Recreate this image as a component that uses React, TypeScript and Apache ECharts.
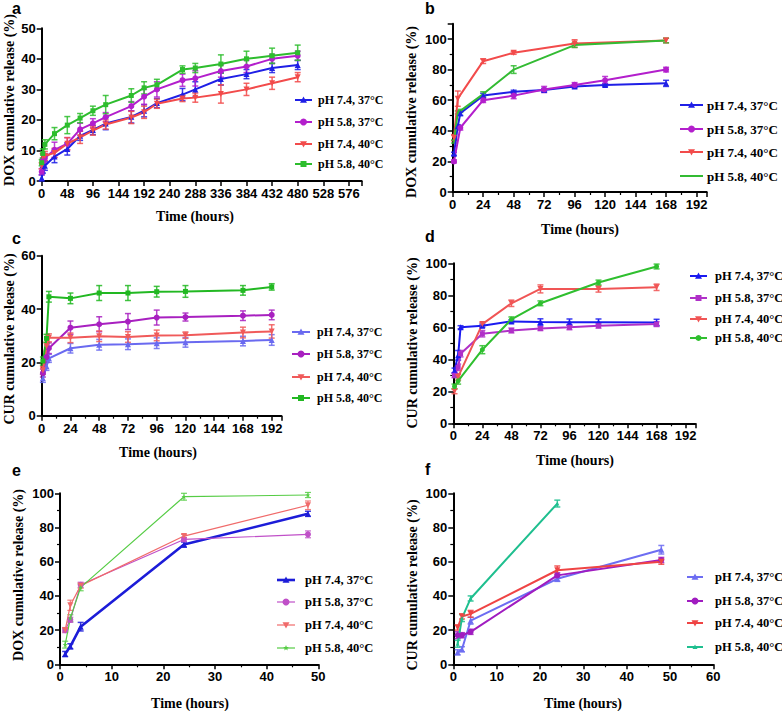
import React, { useEffect, useRef } from "react";
import * as echarts from "echarts";

const LABELS = ["pH 7.4, 37°C", "pH 5.8, 37°C", "pH 7.4, 40°C", "pH 5.8, 40°C"];

// ---- Panel a (DOX, long) ----
const aTime = [0, 2, 6, 24, 48, 72, 96, 120, 168, 192, 216, 264, 288, 336, 384, 432, 480];
const aBlue = [1, 3.5, 5, 8, 10.5, 14.8, 16.7, 18.8, 21, 23, 25.5, 28.3, 30, 33.4, 35, 37, 38];
const aBlueErr = [1, 1, 1.5, 2, 2, 1.5, 1.5, 2, 2, 2, 1.5, 2, 2.5, 2, 1.5, 1.5, 1.5];
const aMag = [3, 6.5, 7.5, 10.2, 12.2, 16.9, 18.9, 20.9, 24.5, 27.6, 30, 33, 33.6, 36, 37.5, 40, 41];
const aMagErr = [1, 1, 1.5, 2.5, 2, 2, 1.5, 1.5, 1.5, 2.5, 2.5, 2, 2.5, 2, 2, 1.5, 1.5];
const aRed = [5, 8, 8.2, 9.2, 12.2, 14.3, 16.5, 18.5, 20.8, 22.5, 25.3, 27, 27.3, 28.5, 30, 32, 34];
const aRedErr = [1, 1, 1.5, 1.5, 2, 2, 1.5, 1.5, 2, 2, 1.5, 1, 1.5, 3, 2, 2, 1.5];
const aGreen = [6, 9, 12, 15.5, 18.3, 20.6, 23, 25, 28, 30.5, 31.5, 36.5, 37, 38.3, 40, 41, 42];
const aGreenErr = [1, 1.5, 1.5, 2, 2.8, 1.5, 1.5, 3, 2.2, 2, 1.8, 1.2, 1.5, 3, 2.5, 2.5, 2.5];

// ---- Panel b (DOX) ----
const bTime = [1, 4, 6, 24, 48, 72, 96, 120, 168];
const bBlue = [25, 43, 51.5, 63, 65.5, 66.7, 69, 70, 71];
const bBlueErr = [1, 1, 1.5, 1.5, 1, 1, 1, 1, 2];
const bMag = [20, null, 42, 60, 63, 67, 70, 73, 80];
const bMagErr = [1, 0, 1.5, 1.5, 2, 2, 1.5, 2.5, 1.5];
const bRed = [35.5, 61, null, 85.5, 91, null, 97, null, 99];
const bRedErr = [2, 5, 0, 1.5, 1, 0, 2.5, 0, 1.5];
const bGreen = [33, 52, 53, 64, 80, null, 96, null, 99];
const bGreenErr = [1, 1, 1, 1.5, 2.5, 0, 1.5, 0, 1.5];

// ---- Panel c (CUR) ----
const cTime = [1, 4, 6, 24, 48, 72, 96, 120, 168, 192];
const cBlue = [14, 18.5, 21.5, 25.3, 26.6, 26.8, 27.2, 27.5, 28, 28.4];
const cBlueErr = [1.5, 1.5, 1.5, 1.8, 2, 2, 2, 1.8, 1.8, 2];
const cMag = [16, 22, 25.3, 33, 34.3, 35.3, 36.8, 37, 37.5, 37.8];
const cMagErr = [1.5, 2, 2, 2.5, 2.8, 3, 2.8, 1.5, 1.8, 1.8];
const cRed = [17, 26, 29.2, 29.2, 29.8, 29.5, 30.1, 30.2, 31.2, 31.6];
const cRedErr = [1.5, 1.5, 1.5, 1.8, 2, 2, 2, 1.2, 2, 2.5];
const cGreen = [20.5, 29, 44.6, 44, 46, 46, 46.5, 46.6, 47, 48.3];
const cGreenErr = [1.5, 1.5, 2, 2, 2.8, 2.8, 2, 2.2, 1.8, 1.2];

// ---- Panel d (CUR) ----
const dTime = [1, 4, 6, 24, 48, 72, 96, 120, 168];
const dBlue = [33, 42.5, 60, 61, 63.7, 63.3, 63.2, 63.2, 63];
const dBlueErr = [1.5, 3, 1, 1, 1, 2, 2, 2, 2];
const dMag = [30, 35, 43.5, 56, 58, 59.2, 60, 61, 62];
const dMagErr = [1.5, 2, 2, 2, 1.5, 1.2, 1.5, 1.5, 1.5];
const dRed = [20, 29, null, 62, 75, 84, null, 84, 85];
const dRedErr = [1.5, 2, 0, 1, 2, 2.5, 0, 2, 2];
const dGreen = [23, 26.5, null, 46, 65, 75, null, 88, 98];
const dGreenErr = [1.5, 2, 0, 2.5, 1.5, 1.5, 0, 1.5, 1.5];

// ---- Panel e (DOX, 48 h) ----
const eTime = [1, 2, 4, 24, 48];
const eBlue = [6, 10.5, 22, 70, 88];
const eBlueErr = [1.5, 1.5, 2.5, 1.5, 1.5];
const eMag = [20, 26, 46.5, 73, 76];
const eMagErr = [1.5, 1.5, 1.5, 1.2, 2];
const eRed = [20, 34.5, 46, 75, 93];
const eRedErr = [1, 3, 1.5, 1, 2.5];
const eGreen = [11.5, 27, 45, 98, 99];
const eGreenErr = [2, 2, 2, 2, 1.5];

// ---- Panel f (CUR, 48 h) ----
const fTime = [1, 2, 4, 24, 48];
const fBlue = [7, 8.8, 25.5, 50, 67];
const fBlueErr = [1.5, 1.5, 2, 1.5, 2.5];
const fMag = [17, 17, 19, 52, 61];
const fMagErr = [2, 1.5, 1.5, 1.5, 1.5];
const fRed = [21.5, 28, 29.5, 55, 60];
const fRedErr = [1.5, 1.5, 2, 2.5, 1.5];
const fGreen = [12, 27, 38.5, 94, null];
const fGreenErr = [2, 2, 1.5, 2, 0];

const TRI_DOWN = "path://M0,0L10,0L5,9Z";
const STAR = "path://M5,0L6.2,3.6L10,3.6L7,5.9L8.1,9.5L5,7.3L1.9,9.5L3,5.9L0,3.6L3.8,3.6Z";

type S = { vals: (number | null)[]; errs: number[]; color: string; sym: string; size: number; lw: number };

const panels = [
  {
    letter: "a", lx: 12, ly: 8,
    grid: { left: 41.7, top: 28.3, width: 320, height: 152.7 },
    xMax: 600, xInt: 48, xMinor: 0, xLabelMax: 576,
    yMax: 50, yInt: 10, yMinor: 0, yLabelMax: 50,
    yTitle: "DOX cumulative release (%)", yt: [9, 100], xt: [195, 216],
    time: aTime,
    series: [
      { vals: aBlue, errs: aBlueErr, color: "#1f1fe6", sym: "triangle", size: 6, lw: 2 },
      { vals: aMag, errs: aMagErr, color: "#b31fcc", sym: "circle", size: 6, lw: 2 },
      { vals: aRed, errs: aRedErr, color: "#f24b4b", sym: TRI_DOWN, size: 6, lw: 2 },
      { vals: aGreen, errs: aGreenErr, color: "#2dbd2d", sym: "rect", size: 5, lw: 2 },
    ] as S[],
    leg: { x1: 295, x2: 312, tx: 318, rows: [100, 122, 144, 164], fs: 12 },
  },
  {
    letter: "b", lx: 425, ly: 8,
    grid: { left: 452.7, top: 23.7, width: 254, height: 168.3 },
    xMax: 200, xInt: 24, xMinor: 2, xLabelMax: 192,
    yMax: 110, yInt: 20, yMinor: 2, yLabelMax: 100,
    yTitle: "DOX cumulative release (%)", yt: [411, 112], xt: [580, 229],
    time: bTime,
    series: [
      { vals: bBlue, errs: bBlueErr, color: "#1f1fe6", sym: "triangle", size: 6, lw: 2 },
      { vals: bMag, errs: bMagErr, color: "#b31fcc", sym: "circle", size: 6, lw: 2 },
      { vals: bRed, errs: bRedErr, color: "#f24b4b", sym: TRI_DOWN, size: 6, lw: 2 },
      { vals: bGreen, errs: bGreenErr, color: "#33bb33", sym: "none", size: 0, lw: 2 },
    ] as S[],
    leg: { x1: 680, x2: 703, tx: 707, rows: [105, 129, 152, 176], fs: 13 },
  },
  {
    letter: "c", lx: 12, ly: 238,
    grid: { left: 41.7, top: 255.7, width: 239.6, height: 160 },
    xMax: 200, xInt: 24, xMinor: 2, xLabelMax: 192,
    yMax: 60, yInt: 20, yMinor: 0, yLabelMax: 60,
    yTitle: "CUR cumulative release (%)", yt: [9, 339], xt: [158, 452],
    time: cTime,
    series: [
      { vals: cBlue, errs: cBlueErr, color: "#6a6af0", sym: "triangle", size: 6, lw: 2 },
      { vals: cMag, errs: cMagErr, color: "#a820c0", sym: "circle", size: 6, lw: 2 },
      { vals: cRed, errs: cRedErr, color: "#f05a5a", sym: TRI_DOWN, size: 6, lw: 2 },
      { vals: cGreen, errs: cGreenErr, color: "#22b822", sym: "rect", size: 5, lw: 2 },
    ] as S[],
    leg: { x1: 292, x2: 310, tx: 317, rows: [332, 354, 377, 398], fs: 12 },
  },
  {
    letter: "d", lx: 425, ly: 236,
    grid: { left: 453.3, top: 263.3, width: 242, height: 160 },
    xMax: 200, xInt: 24, xMinor: 2, xLabelMax: 192,
    yMax: 100, yInt: 20, yMinor: 2, yLabelMax: 100,
    yTitle: "CUR cumulative release (%)", yt: [412, 343], xt: [575, 460],
    time: dTime,
    series: [
      { vals: dBlue, errs: dBlueErr, color: "#1a1af0", sym: "triangle", size: 6, lw: 2 },
      { vals: dMag, errs: dMagErr, color: "#b030c8", sym: "rect", size: 5, lw: 2 },
      { vals: dRed, errs: dRedErr, color: "#f05555", sym: TRI_DOWN, size: 6, lw: 2 },
      { vals: dGreen, errs: dGreenErr, color: "#2fbf2f", sym: "circle", size: 5, lw: 2 },
    ] as S[],
    leg: { x1: 690, x2: 707, tx: 715, rows: [276, 298, 319, 338], fs: 12.5 },
  },
  {
    letter: "e", lx: 12, ly: 470,
    grid: { left: 60, top: 493.3, width: 258.3, height: 171 },
    xMax: 50, xInt: 10, xMinor: 2, xLabelMax: 50,
    yMax: 100, yInt: 20, yMinor: 2, yLabelMax: 100,
    yTitle: "DOX cumulative release (%)", yt: [18, 575], xt: [190, 703],
    time: eTime,
    series: [
      { vals: eBlue, errs: eBlueErr, color: "#1c1cd8", sym: "triangle", size: 6, lw: 2.6 },
      { vals: eMag, errs: eMagErr, color: "#c050c8", sym: "circle", size: 6, lw: 1.2 },
      { vals: eRed, errs: eRedErr, color: "#f06a6a", sym: TRI_DOWN, size: 6, lw: 1.2 },
      { vals: eGreen, errs: eGreenErr, color: "#55cc44", sym: STAR, size: 5, lw: 1.2 },
    ] as S[],
    leg: { x1: 277, x2: 295, tx: 305, rows: [580, 602, 625, 648], fs: 12.5 },
  },
  {
    letter: "f", lx: 425, ly: 469,
    grid: { left: 453.3, top: 493.3, width: 260, height: 171 },
    xMax: 60, xInt: 10, xMinor: 2, xLabelMax: 60,
    yMax: 100, yInt: 20, yMinor: 2, yLabelMax: 100,
    yTitle: "CUR cumulative release (%)", yt: [412, 585], xt: [583, 703],
    time: fTime,
    series: [
      { vals: fBlue, errs: fBlueErr, color: "#6d6df2", sym: "triangle", size: 6, lw: 2 },
      { vals: fMag, errs: fMagErr, color: "#a01cc0", sym: "circle", size: 6, lw: 2 },
      { vals: fRed, errs: fRedErr, color: "#ef4444", sym: TRI_DOWN, size: 6, lw: 2 },
      { vals: fGreen, errs: fGreenErr, color: "#1fbf8f", sym: "triangle", size: 4, lw: 2 },
    ] as S[],
    leg: { x1: 687, x2: 703, tx: 715, rows: [577, 601, 623, 647], fs: 12.5 },
  },
];

function legendMarker(sym: string, cx: number, cy: number, color: string, size: number): any[] {
  const r = size / 2 + 0.5;
  if (sym === "none") return [];
  if (sym === "circle") return [{ type: "circle", shape: { cx, cy, r }, style: { fill: color } }];
  if (sym === "rect") return [{ type: "rect", shape: { x: cx - r, y: cy - r, width: 2 * r, height: 2 * r }, style: { fill: color } }];
  if (sym === "triangle")
    return [{ type: "polygon", shape: { points: [[cx, cy - r], [cx - r, cy + r * 0.8], [cx + r, cy + r * 0.8]] }, style: { fill: color } }];
  if (sym === TRI_DOWN)
    return [{ type: "polygon", shape: { points: [[cx - r, cy - r * 0.8], [cx + r, cy - r * 0.8], [cx, cy + r]] }, style: { fill: color } }];
  const pts: number[][] = [];
  for (let i = 0; i < 10; i++) {
    const a = -Math.PI / 2 + (i * Math.PI) / 5;
    const rr = i % 2 === 0 ? r : r * 0.45;
    pts.push([cx + rr * Math.cos(a), cy + rr * Math.sin(a)]);
  }
  return [{ type: "polygon", shape: { points: pts }, style: { fill: color } }];
}

export default function App() {
  const ref = useRef<HTMLDivElement>(null);
  useEffect(() => {
    if (!ref.current) return;
    const chart = echarts.init(ref.current, null, { renderer: "svg" });
    const grids: any[] = [];
    const xAxes: any[] = [];
    const yAxes: any[] = [];
    const series: any[] = [];
    const graphics: any[] = [];
    const labelStyle = { color: "#000", fontFamily: "Liberation Sans, Arial", fontWeight: "bold", fontSize: 13 };

    panels.forEach((p, gi) => {
      grids.push({ ...p.grid, containLabel: false });
      const axisCommon = {
        axisLine: { show: true, onZero: false, lineStyle: { color: "#000", width: 2 } },
        axisTick: { show: true, length: 5, lineStyle: { color: "#000", width: 1.5 } },
        splitLine: { show: false },
      };
      xAxes.push({
        type: "value", gridIndex: gi, min: 0, max: p.xMax, interval: p.xInt,
        ...axisCommon,
        minorTick: { show: p.xMinor > 0, splitNumber: p.xMinor || 5, length: 3, lineStyle: { color: "#000", width: 1.2 } },
        axisLabel: { ...labelStyle, margin: 6, showMaxLabel: true, formatter: (v: number) => (v > p.xLabelMax ? "" : String(v)) },
      });
      yAxes.push({
        type: "value", gridIndex: gi, min: 0, max: p.yMax, interval: p.yInt,
        ...axisCommon,
        minorTick: { show: p.yMinor > 0, splitNumber: p.yMinor || 5, length: 3, lineStyle: { color: "#000", width: 1.2 } },
        axisLabel: { ...labelStyle, margin: 6, formatter: (v: number) => (v > p.yLabelMax ? "" : String(v)) },
      });

      p.series.forEach((s, si) => {
        const pts: number[][] = [];
        const errData: number[][] = [];
        p.time.forEach((t, i) => {
          const v = s.vals[i];
          if (v === null || v === undefined) return;
          pts.push([t, v]);
          if (s.errs[i] > 0) errData.push([t, v - s.errs[i], v + s.errs[i]]);
        });
        series.push({
          type: "custom", xAxisIndex: gi, yAxisIndex: gi, z: 1, silent: true,
          data: errData,
          encode: { x: 0, y: [1, 2] },
          renderItem: (params: any, api: any) => {
            const x = api.value(0);
            const p1 = api.coord([x, api.value(1)]);
            const p2 = api.coord([x, api.value(2)]);
            const w = 3;
            const st = { stroke: s.color, lineWidth: Math.min(s.lw, 1.5), opacity: 0.85 };
            return {
              type: "group",
              children: [
                { type: "line", shape: { x1: p1[0], y1: p1[1], x2: p2[0], y2: p2[1] }, style: st },
                { type: "line", shape: { x1: p1[0] - w, y1: p1[1], x2: p1[0] + w, y2: p1[1] }, style: st },
                { type: "line", shape: { x1: p2[0] - w, y1: p2[1], x2: p2[0] + w, y2: p2[1] }, style: st },
              ],
            };
          },
        });
        series.push({
          type: "line", name: LABELS[si], xAxisIndex: gi, yAxisIndex: gi, z: 2,
          data: pts,
          symbol: s.sym, symbolSize: s.size, showSymbol: s.sym !== "none",
          lineStyle: { color: s.color, width: s.lw },
          itemStyle: { color: s.color },
        });

        const cy = p.leg.rows[si];
        graphics.push({ type: "line", shape: { x1: p.leg.x1, y1: cy, x2: p.leg.x2, y2: cy }, style: { stroke: s.color, lineWidth: s.lw } });
        legendMarker(s.sym, (p.leg.x1 + p.leg.x2) / 2, cy, s.color, s.size).forEach((g) => graphics.push(g));
        graphics.push({
          type: "text", x: p.leg.tx, y: cy,
          style: { text: LABELS[si], fill: "#000", fontFamily: "Liberation Serif, Times New Roman", fontWeight: "bold", fontSize: p.leg.fs, align: "left", verticalAlign: "middle" },
        });
      });

      graphics.push({
        type: "text", x: p.lx, y: p.ly,
        style: { text: p.letter, fill: "#000", fontFamily: "Liberation Sans, Arial", fontWeight: "bold", fontSize: 16, align: "left", verticalAlign: "middle" },
      });
      graphics.push({
        type: "text", x: p.yt[0], y: p.yt[1], rotation: Math.PI / 2,
        style: { text: p.yTitle, fill: "#000", fontFamily: "Liberation Serif, Times New Roman", fontWeight: "bold", fontSize: 14, align: "center", verticalAlign: "middle" },
      });
      graphics.push({
        type: "text", x: p.xt[0], y: p.xt[1],
        style: { text: "Time (hours)", fill: "#000", fontFamily: "Liberation Serif, Times New Roman", fontWeight: "bold", fontSize: 14, align: "center", verticalAlign: "middle" },
      });
    });

    chart.setOption({
      animation: false,
      backgroundColor: "#fff",
      grid: grids,
      xAxis: xAxes,
      yAxis: yAxes,
      series,
      graphic: graphics,
    });
    return () => chart.dispose();
  }, []);
  return <div ref={ref} style={{ position: "absolute", left: 0, top: 0, width: 782, height: 711 }} />;
}
